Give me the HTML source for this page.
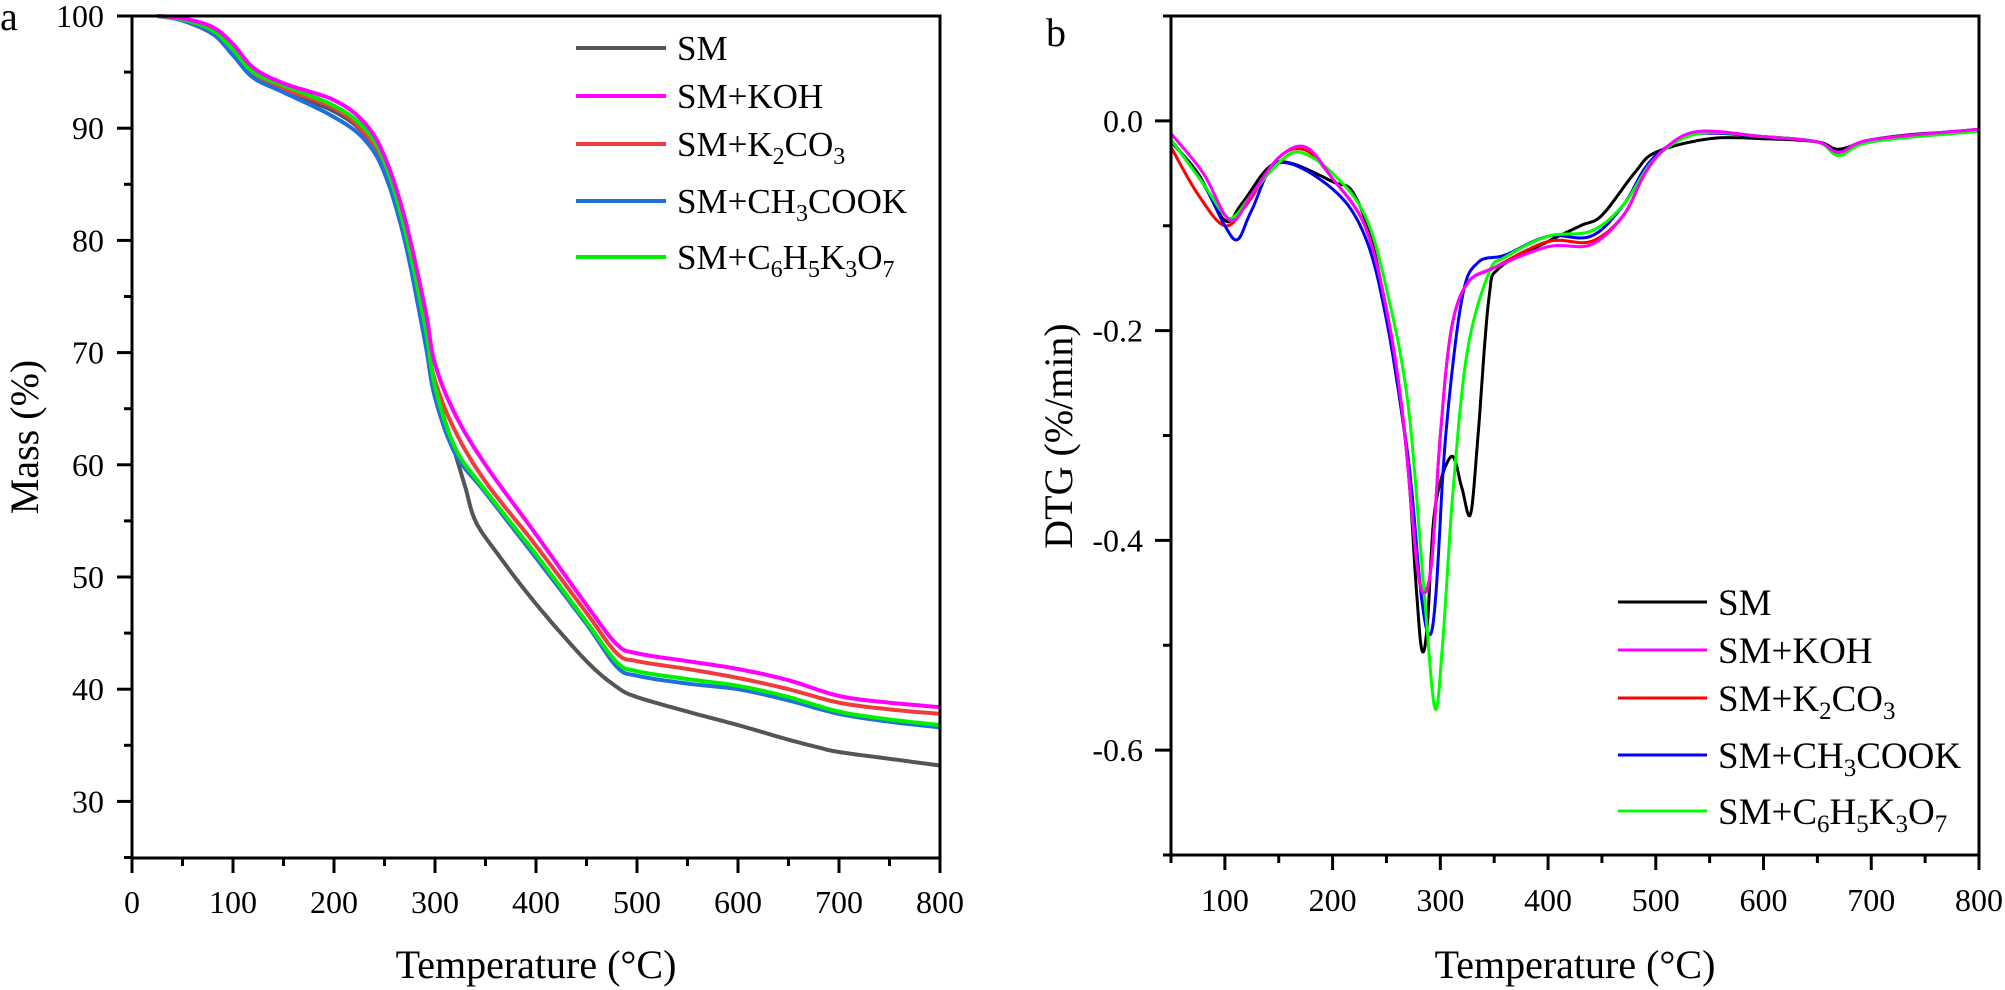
<!DOCTYPE html>
<html><head><meta charset="utf-8"><style>
html,body{margin:0;padding:0;background:#fff}
svg{display:block;font-family:"Liberation Serif","DejaVu Serif",serif}
svg text{font-family:"Liberation Serif","DejaVu Serif",serif;fill:#000}
</style></head><body>
<svg id="s" width="2005" height="990" xmlns="http://www.w3.org/2000/svg" font-family="Liberation Serif, serif">
<g id="g"></g>
<text x="0" y="30" font-size="40">a</text>
<text x="1046" y="46" font-size="40">b</text>
<text x="536" y="978" font-size="40" text-anchor="middle">Temperature (°C)</text>
<text x="1575" y="978" font-size="40" text-anchor="middle">Temperature (°C)</text>
<text transform="translate(38,437) rotate(-90)" font-size="40" text-anchor="middle">Mass (%)</text>
<text transform="translate(1072,436) rotate(-90)" font-size="40" text-anchor="middle">DTG (%/min)</text>
<g font-size="35">
<line x1="576" y1="48" x2="666" y2="48" stroke="#555" stroke-width="4"/><text x="677" y="60">SM</text>
<line x1="576" y1="96" x2="666" y2="96" stroke="#ff00ff" stroke-width="4"/><text x="677" y="108">SM+KOH</text>
<line x1="576" y1="144" x2="666" y2="144" stroke="#f03c3c" stroke-width="4"/><text x="677" y="156">SM+K<tspan font-size="24" dy="8">2</tspan><tspan dy="-8">CO</tspan><tspan font-size="24" dy="8">3</tspan></text>
<line x1="576" y1="201" x2="666" y2="201" stroke="#1f6fe0" stroke-width="4"/><text x="677" y="213">SM+CH<tspan font-size="24" dy="8">3</tspan><tspan dy="-8">COOK</tspan></text>
<line x1="576" y1="257" x2="666" y2="257" stroke="#00ee00" stroke-width="4"/><text x="677" y="269">SM+C<tspan font-size="24" dy="8">6</tspan><tspan dy="-8">H</tspan><tspan font-size="24" dy="8">5</tspan><tspan dy="-8">K</tspan><tspan font-size="24" dy="8">3</tspan><tspan dy="-8">O</tspan><tspan font-size="24" dy="8">7</tspan></text>
</g>
<g font-size="37">
<line x1="1618" y1="602" x2="1707" y2="602" stroke="#000" stroke-width="3"/><text x="1718" y="615">SM</text>
<line x1="1618" y1="650" x2="1707" y2="650" stroke="#ff00ff" stroke-width="3"/><text x="1718" y="663">SM+KOH</text>
<line x1="1618" y1="698" x2="1707" y2="698" stroke="#ff0000" stroke-width="3"/><text x="1718" y="711">SM+K<tspan font-size="25" dy="8">2</tspan><tspan dy="-8">CO</tspan><tspan font-size="25" dy="8">3</tspan></text>
<line x1="1618" y1="755" x2="1707" y2="755" stroke="#0000ff" stroke-width="3"/><text x="1718" y="768">SM+CH<tspan font-size="25" dy="8">3</tspan><tspan dy="-8">COOK</tspan></text>
<line x1="1618" y1="811" x2="1707" y2="811" stroke="#00ff00" stroke-width="3"/><text x="1718" y="824">SM+C<tspan font-size="25" dy="8">6</tspan><tspan dy="-8">H</tspan><tspan font-size="25" dy="8">5</tspan><tspan dy="-8">K</tspan><tspan font-size="25" dy="8">3</tspan><tspan dy="-8">O</tspan><tspan font-size="25" dy="8">7</tspan></text>
</g>
</svg>
<script>
const NS="http://www.w3.org/2000/svg",g=document.getElementById('g');
function el(n,a,t){const e=document.createElementNS(NS,n);for(const k in a)e.setAttribute(k,a[k]);if(t!==undefined)e.textContent=t;g.appendChild(e);return e;}
function spline(pts){let out=[];for(let i=0;i<pts.length-1;i++){const p0=pts[Math.max(0,i-1)],p1=pts[i],p2=pts[i+1],p3=pts[Math.min(pts.length-1,i+2)];for(let k=0;k<10;k++){const t=k/10,t2=t*t,t3=t2*t;const f=(a,b,c,d)=>0.5*(2*b+(-a+c)*t+(2*a-5*b+4*c-d)*t2+(-a+3*b-3*c+d)*t3);out.push([f(p0[0],p1[0],p2[0],p3[0]),f(p0[1],p1[1],p2[1],p3[1])]);}}out.push(pts[pts.length-1]);return out;}
function curve(d,X,Y,col,w){const p=spline(d.map(q=>[X(q[0]),Y(q[1])]));el('polyline',{points:p.map(q=>q[0].toFixed(1)+','+q[1].toFixed(1)).join(' '),fill:'none',stroke:col,'stroke-width':w,'stroke-linejoin':'round'});}
const LX=t=>132+t*1.01, LY=m=>16+(100-m)*11.22;
const SM=[[25,100],[50,99.7],[80,98.5],[100,96.8],[120,94.8],[150,93.3],[200,91.5],[230,89.5],[250,86.5],[270,81],[290,72],[300,67],[320,61],[330,58],[340,55],[360,52.3],[400,47.6],[450,42.5],[480,40.2],[500,39.3],[550,38],[600,36.8],[650,35.5],[680,34.8],[700,34.4],[750,33.8],[800,33.2]];
const KOH=[[25,100],[50,99.8],[80,99],[100,97.5],[120,95.4],[150,94],[200,92.5],[230,90.5],[250,87.5],[270,82],[290,74],[300,69],[320,64.5],[350,60],[400,53.8],[450,47.5],[480,44],[500,43.2],[550,42.5],[600,41.8],[650,40.8],[700,39.4],[750,38.8],[800,38.4]];
const KC=[[25,100],[50,99.6],[80,98.4],[100,96.8],[120,94.6],[150,93.5],[200,91.8],[230,89.6],[250,86.5],[270,80.5],[290,72],[300,67.5],[320,63],[350,58.5],[400,52.8],[450,46.8],[480,43.2],[500,42.5],[550,41.8],[600,41],[650,40],[700,38.8],[750,38.2],[800,37.8]];
const CH=[[25,100],[50,99.6],[80,98.4],[100,96.5],[120,94.5],[150,93.2],[200,91],[230,89],[250,86],[270,80],[290,71],[300,66],[320,61],[350,57.5],[400,51.7],[450,45.8],[480,42],[500,41.2],[550,40.5],[600,40],[650,39],[700,37.8],[750,37.1],[800,36.6]];
const C6=[[25,100],[50,99.7],[80,98.7],[100,97],[120,95],[150,93.8],[200,92],[230,90],[250,87],[270,81],[290,72.5],[300,67],[320,61.5],[350,57.7],[400,52],[450,46],[480,42.4],[500,41.6],[550,40.9],[600,40.3],[650,39.3],[700,38],[750,37.3],[800,36.8]];
curve(SM,LX,LY,'#555',4);curve(KC,LX,LY,'#f03c3c',4);curve(CH,LX,LY,'#1f6fe0',4);curve(C6,LX,LY,'#00ee00',4);curve(KOH,LX,LY,'#ff00ff',4);
el('rect',{x:132,y:16,width:808,height:842,fill:'none',stroke:'#000','stroke-width':3});
for(let t=0;t<=800;t+=50){const x=LX(t),maj=t%100==0;el('line',{x1:x,y1:858,x2:x,y2:maj?873:866,stroke:'#000','stroke-width':3});if(maj)el('text',{x:x,y:913,'font-size':32,'text-anchor':'middle'},t);}
for(let m=25;m<=100;m+=5){const y=LY(m),maj=m%10==0;el('line',{x1:132,y1:y,x2:maj?117:124,y2:y,stroke:'#000','stroke-width':3});if(maj)el('text',{x:104,y:y+11,'font-size':32,'text-anchor':'end'},m);}
const RX=t=>1171+(t-50)*1.0773, RY=v=>16+(0.1-v)*1048.75;
const D_SM=[[50,-0.02],[75,-0.05],[100,-0.095],[115,-0.08],[140,-0.045],[160,-0.04],[200,-0.058],[220,-0.07],[240,-0.13],[260,-0.25],[270,-0.33],[278,-0.45],[283,-0.505],[288,-0.48],[295,-0.37],[310,-0.32],[320,-0.35],[328,-0.375],[335,-0.3],[345,-0.17],[355,-0.14],[400,-0.115],[430,-0.1],[450,-0.09],[480,-0.05],[500,-0.03],[550,-0.017],[600,-0.017],[650,-0.02],[670,-0.027],[700,-0.018],[750,-0.012],[800,-0.01]];
const D_KOH=[[50,-0.012],[80,-0.05],[105,-0.095],[125,-0.07],[150,-0.035],[175,-0.025],[200,-0.055],[230,-0.1],[250,-0.18],[265,-0.28],[278,-0.42],[285,-0.45],[292,-0.42],[300,-0.3],[310,-0.2],[325,-0.155],[350,-0.14],[400,-0.12],[440,-0.118],[470,-0.09],[490,-0.05],[510,-0.025],[540,-0.01],[600,-0.015],[650,-0.02],[670,-0.03],[700,-0.018],[800,-0.008]];
const D_KC=[[50,-0.025],[75,-0.07],[100,-0.1],[120,-0.08],[150,-0.035],[175,-0.028],[200,-0.055],[230,-0.1],[250,-0.18],[265,-0.28],[278,-0.42],[285,-0.448],[292,-0.42],[300,-0.3],[310,-0.2],[325,-0.155],[350,-0.14],[400,-0.115],[440,-0.115],[470,-0.09],[490,-0.05],[510,-0.025],[540,-0.012],[600,-0.015],[650,-0.02],[670,-0.03],[700,-0.018],[800,-0.008]];
const D_CH=[[50,-0.018],[80,-0.06],[100,-0.1],[112,-0.113],[125,-0.085],[150,-0.04],[200,-0.065],[230,-0.11],[250,-0.19],[270,-0.32],[282,-0.45],[290,-0.49],[296,-0.45],[305,-0.3],[320,-0.17],[335,-0.135],[360,-0.128],[400,-0.11],[440,-0.11],[470,-0.08],[490,-0.045],[510,-0.025],[540,-0.012],[600,-0.015],[650,-0.02],[670,-0.03],[700,-0.018],[800,-0.008]];
const D_C6=[[50,-0.018],[80,-0.06],[100,-0.09],[110,-0.09],[125,-0.07],[150,-0.04],[170,-0.03],[200,-0.05],[230,-0.09],[250,-0.16],[270,-0.27],[285,-0.45],[295,-0.56],[302,-0.5],[312,-0.35],[325,-0.22],[345,-0.145],[360,-0.13],[400,-0.11],[440,-0.105],[470,-0.08],[500,-0.035],[540,-0.012],[600,-0.015],[650,-0.02],[670,-0.033],[700,-0.02],[800,-0.01]];
curve(D_SM,RX,RY,'#000',3);curve(D_KC,RX,RY,'#ff0000',3);curve(D_CH,RX,RY,'#0000ff',3);curve(D_C6,RX,RY,'#00ff00',3);curve(D_KOH,RX,RY,'#ff00ff',3);
el('rect',{x:1171,y:16,width:808,height:839,fill:'none',stroke:'#000','stroke-width':3});
for(let t=50;t<=800;t+=50){const x=RX(t),maj=t%100==0;el('line',{x1:x,y1:855,x2:x,y2:maj?870:863,stroke:'#000','stroke-width':3});if(maj)el('text',{x:x,y:911,'font-size':32,'text-anchor':'middle'},t);}
for(let i=-7;i<=1;i++){const v=i/10,y=RY(v),maj=(i%2==0);el('line',{x1:1171,y1:y,x2:maj?1155:1163,y2:y,stroke:'#000','stroke-width':3});if(maj&&i<=0)el('text',{x:1143,y:y+11,'font-size':32,'text-anchor':'end'},(i==0?'0.0':v.toFixed(1)));}
</script>
</body></html>
